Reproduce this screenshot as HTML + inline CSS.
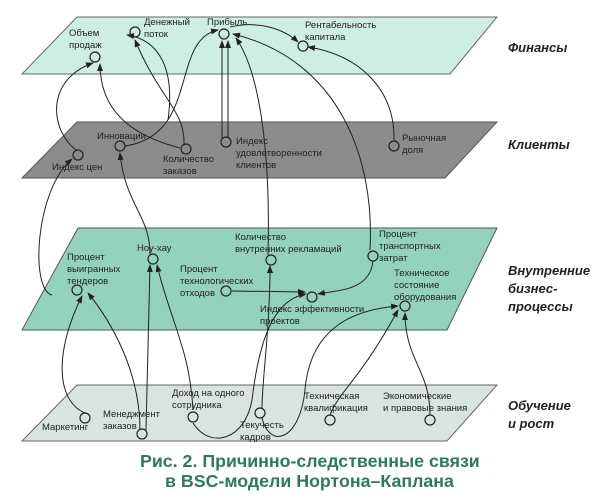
<!DOCTYPE html>
<html><head><meta charset="utf-8"><style>
html,body{margin:0;padding:0;background:#fff;}
svg{display:block;font-family:"Liberation Sans",sans-serif;}
.l{font-size:9.5px;fill:#222;}
.h{font-size:13px;font-weight:bold;font-style:italic;fill:#222;}
.c{font-size:17.8px;font-weight:bold;fill:#2b7a5c;}
.e{fill:none;stroke:#222;stroke-width:1;marker-end:url(#a);}
.n{fill:#fff;fill-opacity:0;stroke:#222;stroke-width:1.2;}
</style></head><body>
<svg width="600" height="498" viewBox="0 0 600 498">
<defs><marker id="a" markerWidth="8" markerHeight="6" refX="7" refY="3" orient="auto" markerUnits="userSpaceOnUse"><path d="M0,0L8,3L0,6z" fill="#222"/></marker></defs>
<polygon points="77,17 497,17 450,74 22,74" fill="#cdeee3" stroke="#666"/>
<polygon points="77,122 497,122 445,178 22,178" fill="#8c8c8c" stroke="#555"/>
<polygon points="78,228 497,228 447,330 22,330" fill="#93d3bd" stroke="#555"/>
<polygon points="77,385 497,385 447,441 22,441" fill="#d9e3df" stroke="#666"/>

<text class="h" x="508" y="52">Финансы</text>
<text class="h" x="508" y="149">Клиенты</text>
<text class="h" x="508" y="275">Внутренние</text>
<text class="h" x="508" y="293">бизнес-</text>
<text class="h" x="508" y="311">процессы</text>
<text class="h" x="508" y="410">Обучение</text>
<text class="h" x="508" y="428">и рост</text>

<text class="c" x="140" y="467">Рис. 2. Причинно-следственные связи</text>
<text class="c" x="165" y="487">в BSC-модели Нортона–Каплана</text>

<!-- edges -->
<path class="e" d="M76,150 C50,130 45,80 93,63"/>
<path class="e" d="M52,295 C30,290 35,190 72,159"/>
<path class="e" d="M180,148 C130,135 100,110 100,64"/>
<path class="e" d="M184,144 C185,110 160,100 135,40"/>
<path class="e" d="M125,146 C200,135 170,40 218,30"/>
<path class="e" d="M168,120 C175,70 160,40 127,35"/>
<path class="e" d="M222,138 L222,41"/>
<path class="e" d="M228,138 L228,41"/>
<path class="e" d="M394,140 C395,90 360,55 308,47"/>
<path class="e" d="M230,27 C260,20 285,30 298,42"/>
<path class="e" d="M370,250 C375,160 340,60 233,34"/>
<path class="e" d="M268,255 C270,180 265,80 236,38"/>
<path class="e" d="M150,254 C150,215 125,205 120,153"/>
<path class="e" d="M232,291 L305,292"/>
<path class="e" d="M373,261 C370,290 340,290 318,294"/>
<path class="e" d="M85,413 C55,400 55,350 82,296"/>
<path class="e" d="M140,430 C140,370 110,320 88,293"/>
<path class="e" d="M146,430 L150,265"/>
<path class="e" d="M193,410 C190,350 170,320 157,265"/>
<path class="e" d="M193,423 C210,450 245,440 252,400 C258,350 270,300 306,294"/>
<path class="e" d="M262,408 C262,380 270,330 270,266"/>
<path class="e" d="M262,418 C270,450 300,440 305,390 C310,330 350,310 398,306"/>
<path class="e" d="M330,415 C340,390 360,380 398,310"/>
<path class="e" d="M430,415 C430,370 405,360 405,313"/>

<!-- nodes -->
<g>
<circle class="n" cx="95" cy="57" r="5"/><circle class="n" cx="135" cy="32" r="5"/>
<circle class="n" cx="224" cy="34" r="5"/><circle class="n" cx="303" cy="46" r="5"/>
<circle class="n" cx="78" cy="155" r="5"/><circle class="n" cx="120" cy="146" r="5"/>
<circle class="n" cx="186" cy="149" r="5"/><circle class="n" cx="226" cy="142" r="5"/>
<circle class="n" cx="394" cy="146" r="5"/>
<circle class="n" cx="153" cy="259" r="5"/><circle class="n" cx="77" cy="290" r="5"/>
<circle class="n" cx="226" cy="291" r="5"/><circle class="n" cx="271" cy="260" r="5"/>
<circle class="n" cx="373" cy="256" r="5"/><circle class="n" cx="312" cy="297" r="5"/>
<circle class="n" cx="405" cy="306" r="5"/>
<circle class="n" cx="85" cy="418" r="5"/><circle class="n" cx="142" cy="434" r="5"/>
<circle class="n" cx="193" cy="417" r="5"/><circle class="n" cx="260" cy="413" r="5"/>
<circle class="n" cx="330" cy="420" r="5"/><circle class="n" cx="430" cy="420" r="5"/>
</g>

<!-- labels -->
<text class="l" x="69" y="36">Объем</text><text class="l" x="69" y="48">продаж</text>
<text class="l" x="144" y="25">Денежный</text><text class="l" x="144" y="37">поток</text>
<text class="l" x="207" y="25">Прибыль</text>
<text class="l" x="305" y="28">Рентабельность</text><text class="l" x="305" y="40">капитала</text>
<text class="l" x="52" y="170">Индекс цен</text>
<text class="l" x="97" y="139">Инновации</text>
<text class="l" x="163" y="162">Количество</text><text class="l" x="163" y="174">заказов</text>
<text class="l" x="236" y="144">Индекс</text><text class="l" x="236" y="156">удовлетворенности</text><text class="l" x="236" y="168">клиентов</text>
<text class="l" x="402" y="141">Рыночная</text><text class="l" x="402" y="153">доля</text>
<text class="l" x="137" y="251">Ноу-хау</text>
<text class="l" x="67" y="260">Процент</text><text class="l" x="67" y="272">выигранных</text><text class="l" x="67" y="284">тендеров</text>
<text class="l" x="180" y="272">Процент</text><text class="l" x="180" y="284">технологических</text><text class="l" x="180" y="296">отходов</text>
<text class="l" x="235" y="240">Количество</text><text class="l" x="235" y="252">внутренних рекламаций</text>
<text class="l" x="379" y="237">Процент</text><text class="l" x="379" y="249">транспортных</text><text class="l" x="379" y="261">затрат</text>
<text class="l" x="260" y="312">Индекс эффективности</text><text class="l" x="260" y="324">проектов</text>
<text class="l" x="394" y="276">Техническое</text><text class="l" x="394" y="288">состояние</text><text class="l" x="394" y="300">оборудования</text>
<text class="l" x="42" y="430">Маркетинг</text>
<text class="l" x="103" y="417">Менеджмент</text><text class="l" x="103" y="429">заказов</text>
<text class="l" x="172" y="396">Доход на одного</text><text class="l" x="172" y="408">сотрудника</text>
<text class="l" x="240" y="428">Текучесть</text><text class="l" x="240" y="440">кадров</text>
<text class="l" x="304" y="399">Техническая</text><text class="l" x="304" y="411">квалификация</text>
<text class="l" x="383" y="399">Экономические</text><text class="l" x="383" y="411">и правовые знания</text>
</svg>
</body></html>
